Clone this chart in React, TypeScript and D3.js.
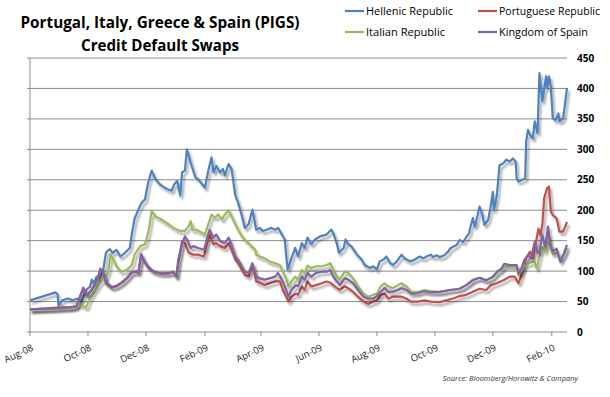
import * as d3 from 'd3';

// CDS spreads (bp), as [days since START, value]
const START = new Date(2008, 7, 1);

const hellenic: [number, number][] = [
  [0, 52], [27, 65], [29, 62], [30, 43], [34, 52], [40, 55], [45, 52], [50, 55], [54, 50], [59, 69],
  [63, 74], [65, 86], [67, 80], [70, 91], [73, 88], [77, 102], [80, 131], [84, 136], [87, 130], [91, 135],
  [95, 124], [100, 130], [105, 138], [107, 160], [110, 186], [114, 201], [117, 211], [121, 218], [124, 243], [128, 265],
  [132, 251], [137, 242], [144, 235], [149, 232], [152, 243], [155, 248], [157, 232], [158, 224], [160, 262], [163, 265],
  [165, 300], [168, 284], [170, 273], [174, 254], [177, 251], [181, 243], [184, 237], [188, 268], [191, 287], [193, 262],
  [196, 273], [200, 262], [203, 268], [205, 257], [209, 276], [212, 268], [216, 224], [219, 212], [223, 190], [226, 171],
  [230, 177], [234, 201], [238, 168], [242, 171], [245, 166], [249, 168], [254, 171], [258, 168], [261, 171], [265, 160],
  [268, 152], [271, 102], [275, 121], [279, 138], [282, 124], [286, 146], [289, 138], [292, 155], [296, 144], [300, 152],
  [305, 157], [312, 160], [317, 168], [319, 163], [323, 144], [325, 130], [330, 138], [332, 152], [335, 144], [338, 141],
  [344, 127], [349, 119], [352, 110], [358, 105], [361, 108], [365, 103], [368, 116], [372, 119], [375, 124], [379, 113],
  [382, 110], [386, 116], [391, 127], [394, 121], [400, 116], [405, 119], [410, 124], [414, 121], [417, 124], [422, 127],
  [424, 123], [428, 126], [431, 123], [436, 126], [440, 132], [442, 137], [445, 140], [449, 143], [452, 151], [456, 148],
  [459, 156], [462, 162], [463, 170], [466, 187], [468, 173], [471, 192], [473, 206], [476, 192], [478, 176], [482, 184],
  [485, 209], [487, 230], [488, 200], [491, 222], [492, 239], [494, 274], [498, 277], [501, 283], [505, 280], [508, 285],
  [511, 280], [512, 252], [514, 247], [518, 250], [521, 252], [522, 313], [524, 332], [526, 324], [529, 318], [531, 346],
  [534, 327], [536, 425], [538, 395], [539, 379], [543, 420], [544, 401], [546, 420], [548, 403], [550, 351], [553, 348],
  [556, 359], [557, 346], [561, 351], [565, 401],
];

const portuguese: [number, number][] = [
  [0, 37], [29, 40], [43, 41], [49, 42], [52, 55], [56, 72], [58, 63], [61, 61], [65, 69], [68, 77],
  [72, 91], [74, 103], [77, 97], [80, 80], [86, 73], [91, 75], [96, 80], [102, 88], [107, 97], [112, 99],
  [114, 97], [117, 127], [120, 116], [125, 105], [130, 99], [137, 96], [146, 96], [151, 98], [154, 91], [156, 113],
  [160, 149], [163, 146], [167, 130], [172, 127], [177, 127], [183, 124], [186, 144], [189, 160], [193, 144], [196, 146],
  [200, 141], [205, 138], [209, 146], [212, 135], [216, 119], [219, 113], [223, 102], [226, 94], [230, 91], [234, 110],
  [238, 83], [242, 81], [247, 77], [252, 80], [258, 83], [263, 83], [266, 69], [272, 50], [275, 58], [280, 63],
  [282, 61], [286, 75], [289, 69], [292, 83], [296, 75], [301, 77], [307, 80], [312, 83], [316, 81], [319, 77],
  [323, 72], [326, 69], [331, 75], [335, 72], [340, 66], [345, 58], [351, 50], [356, 46], [361, 50], [365, 52],
  [369, 61], [373, 63], [377, 55], [382, 58], [387, 58], [391, 58], [396, 55], [401, 50], [408, 50], [415, 52],
  [422, 50], [431, 49], [438, 52], [445, 55], [452, 59], [459, 61], [466, 66], [473, 71], [480, 69], [485, 77],
  [491, 80], [498, 85], [505, 91], [510, 91], [514, 80], [517, 93], [522, 121], [526, 132], [529, 121], [532, 145],
  [535, 170], [537, 159], [539, 176], [541, 220], [544, 236], [546, 239], [548, 198], [550, 192], [554, 187], [557, 165],
  [561, 165], [565, 181],
];

const italian: [number, number][] = [
  [0, 37], [30, 38], [45, 40], [52, 46], [59, 40], [62, 52], [66, 63], [70, 72], [73, 80], [79, 88],
  [82, 97], [85, 127], [87, 121], [91, 108], [96, 99], [102, 102], [107, 110], [110, 127], [116, 141], [121, 144],
  [125, 168], [128, 199], [132, 190], [137, 186], [144, 179], [151, 171], [158, 166], [163, 166], [167, 174], [169, 182],
  [171, 168], [175, 168], [181, 163], [184, 160], [188, 179], [191, 193], [195, 188], [198, 193], [202, 185], [205, 193],
  [209, 200], [212, 190], [216, 177], [219, 168], [223, 157], [226, 152], [230, 146], [233, 141], [237, 135], [238, 127],
  [242, 124], [247, 121], [252, 116], [258, 113], [263, 110], [266, 99], [270, 86], [272, 75], [275, 83], [279, 91],
  [282, 86], [286, 102], [289, 97], [292, 109], [296, 105], [301, 108], [307, 108], [312, 110], [316, 113], [319, 102],
  [323, 91], [326, 86], [331, 99], [335, 97], [340, 88], [345, 75], [351, 63], [356, 58], [361, 61], [365, 63],
  [369, 75], [373, 80], [377, 75], [382, 72], [387, 77], [391, 80], [396, 75], [401, 66], [408, 66], [415, 69],
  [422, 67], [431, 66], [442, 69], [452, 71], [459, 77], [466, 86], [473, 89], [480, 85], [487, 90], [492, 98],
  [496, 102], [499, 108], [505, 108], [512, 108], [514, 93], [517, 100], [520, 110], [524, 112], [528, 115], [531, 115],
  [533, 104], [536, 125], [539, 140], [542, 132], [545, 159], [547, 140], [550, 128], [554, 130], [558, 120], [561, 125],
  [565, 138],
];

const spain: [number, number][] = [
  [0, 37], [29, 39], [43, 41], [49, 42], [52, 56], [56, 73], [58, 65], [61, 62], [65, 70], [68, 78],
  [72, 92], [74, 104], [77, 98], [80, 82], [86, 74], [91, 76], [96, 81], [102, 89], [107, 98], [112, 100],
  [114, 98], [117, 128], [120, 117], [125, 106], [130, 100], [137, 97], [146, 97], [151, 99], [154, 91], [156, 119],
  [160, 144], [163, 157], [165, 152], [169, 138], [172, 141], [177, 138], [183, 135], [186, 152], [189, 168], [193, 155],
  [196, 160], [200, 149], [205, 146], [209, 155], [212, 144], [216, 124], [219, 119], [223, 108], [226, 99], [230, 97],
  [234, 113], [238, 91], [242, 88], [247, 86], [252, 88], [258, 91], [261, 97], [265, 86], [268, 75], [272, 58],
  [275, 69], [280, 77], [282, 75], [286, 91], [289, 86], [292, 97], [296, 91], [301, 97], [307, 99], [312, 99],
  [316, 102], [319, 91], [323, 83], [326, 77], [331, 88], [335, 86], [340, 80], [345, 69], [351, 58], [356, 55],
  [361, 55], [365, 59], [369, 66], [373, 72], [377, 66], [382, 66], [387, 69], [391, 72], [396, 69], [401, 63],
  [408, 64], [415, 67], [421, 65], [431, 66], [442, 69], [452, 71], [459, 77], [466, 85], [473, 89], [480, 85],
  [487, 91], [492, 100], [496, 104], [499, 112], [505, 110], [512, 110], [514, 96], [517, 104], [520, 118], [524, 126],
  [527, 121], [531, 148], [534, 130], [536, 132], [539, 159], [542, 140], [545, 173], [547, 148], [550, 132], [554, 137],
  [558, 115], [561, 126], [565, 143],
];

const yTicks = [0, 50, 100, 150, 200, 250, 300, 350, 400, 450];
const xTicks = ['2008-08-01', '2008-10-01', '2008-12-01', '2009-02-01', '2009-04-01',
  '2009-06-01', '2009-08-01', '2009-10-01', '2009-12-01', '2010-02-01'];

const series = [
  { name: 'Hellenic Republic', color: '#4F81BD', data: hellenic },
  { name: 'Portuguese Republic', color: '#C0504D', data: portuguese },
  { name: 'Italian Republic', color: '#9BBB59', data: italian },
  { name: 'Kingdom of Spain', color: '#8064A2', data: spain },
];

const FONT = '"Open Sans", "Noto Sans", sans-serif';

export default function App() {
  const left = 30;
  const right = 567;
  const top = 58;
  const bottom = 332;

  const toDate = (d: number) => d3.timeDay.offset(START, d);
  const x = d3.scaleTime().domain([START, toDate(565)]).range([left, right]);
  const y = d3.scaleLinear().domain([0, 450]).range([bottom, top]);
  const fmt = d3.timeFormat('%b-%y');
  const parse = d3.timeParse('%Y-%m-%d');

  const line = d3
    .line<[number, number]>()
    .x((d) => x(toDate(d[0])))
    .y((d) => y(d[1]));

  const legendPos = [
    { lx: 345, ly: 11, tw: 87 },
    { lx: 478, ly: 11, tw: 101 },
    { lx: 345, ly: 32, tw: 79 },
    { lx: 478, ly: 32, tw: 89 },
  ];

  return (
    <svg
      width={610}
      height={397}
      style={{ position: 'absolute', left: 0, top: 0, background: '#fff' }}
      fontFamily={FONT}
    >
      <defs>
        <filter id="shadow" x="-10%" y="-10%" width="120%" height="130%">
          <feDropShadow dx="2" dy="3" stdDeviation="1.3" floodColor="#000" floodOpacity="0.35" />
        </filter>
      </defs>

      {/* Title */}
      <text x={160} y={28} textAnchor="middle" fontSize={16} fontWeight="bold" fill="#000"
        textLength={279} lengthAdjust="spacingAndGlyphs">
        Portugal, Italy, Greece &amp; Spain (PIGS)
      </text>
      <text x={160} y={51} textAnchor="middle" fontSize={16} fontWeight="bold" fill="#000"
        textLength={158} lengthAdjust="spacingAndGlyphs">
        Credit Default Swaps
      </text>

      {/* Legend */}
      {series.map((s, i) => (
        <g key={s.name}>
          <line x1={legendPos[i].lx} x2={legendPos[i].lx + 19} y1={legendPos[i].ly} y2={legendPos[i].ly}
            stroke={s.color} strokeWidth={2.2} />
          <text x={legendPos[i].lx + 21} y={legendPos[i].ly + 4} fontSize={11.5} fill="#000"
            textLength={legendPos[i].tw} lengthAdjust="spacingAndGlyphs">
            {s.name}
          </text>
        </g>
      ))}

      {/* Gridlines & y labels */}
      {yTicks.map((t) => (
        <g key={t}>
          {t > 0 && (
            <line x1={left - 3} x2={right} y1={y(t)} y2={y(t)} stroke="#8c8c8c" strokeWidth={1} />
          )}
          <text x={577} y={y(t)} dy="0.35em" fontSize={10} fontWeight="bold" fill="#000">
            {t}
          </text>
        </g>
      ))}

      {/* Axes */}
      <line x1={left} x2={left} y1={top} y2={bottom} stroke="#8c8c8c" />
      <line x1={left - 3} x2={left} y1={bottom} y2={bottom} stroke="#8c8c8c" />
      <line x1={left} x2={right} y1={bottom} y2={bottom} stroke="#8c8c8c" />
      {xTicks.map((t) => {
        const d = parse(t)!;
        const px = x(d);
        return (
          <g key={t}>
            <line x1={px} x2={px} y1={bottom} y2={bottom + 4} stroke="#8c8c8c" />
            <text
              transform={`translate(${px + 4},${bottom + 18}) rotate(-25)`}
              textAnchor="end"
              fontSize={9.5}
              fill="#222"
            >
              {fmt(d)}
            </text>
          </g>
        );
      })}

      {/* Series */}
      {series.map((s) => (
        <path key={s.name} d={line(s.data) ?? ''} fill="none" stroke={s.color} strokeWidth={2.2}
          strokeLinejoin="round" filter="url(#shadow)" />
      ))}

      <text x={578} y={381} textAnchor="end" fontSize={7.5} fontStyle="italic" fill="#333">
        Source: Bloomberg/Horowitz &amp; Company
      </text>
    </svg>
  );
}
